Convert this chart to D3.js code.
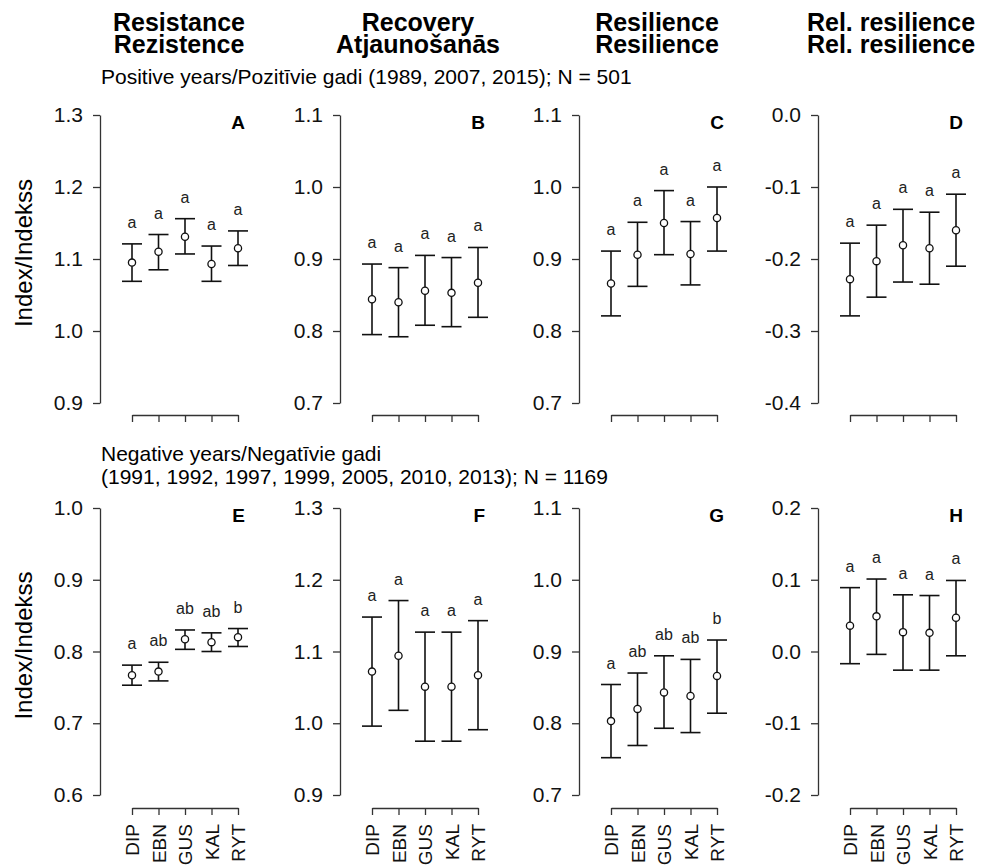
<!DOCTYPE html>
<html>
<head>
<meta charset="utf-8">
<script src="https://cdn.jsdelivr.net/npm/d3@7"></script>
<style>
  html, body { margin: 0; padding: 0; background: #fff; }
  svg { display: block; font-family: "Liberation Sans", Arial, Helvetica, sans-serif; }
</style>
</head>
<body>
<svg id="chart" width="986" height="867"></svg>
<script>
// ---------------- DATA ----------------
const categories = ["DIP", "EBN", "GUS", "KAL", "RYT"];

const columnTitles = [
  ["Resistance", "Rezistence"],
  ["Recovery", "Atjaunošanās"],
  ["Resilience", "Resilience"],
  ["Rel. resilience", "Rel. resilience"]
];

const positiveSubtitle = ["Positive years/Pozitīvie gadi (1989, 2007, 2015); N = 501"];
const negativeSubtitle = ["Negative years/Negatīvie gadi", "(1991, 1992, 1997, 1999, 2005, 2010, 2013); N = 1169"];
const yAxisTitle = "Index/Indekss";

const panelLetters = ["A", "B", "C", "D", "E", "F", "G", "H"];

// y tick values per panel
const ticksA = [0.9, 1.0, 1.1, 1.2, 1.3];
const ticksB = [0.7, 0.8, 0.9, 1.0, 1.1];
const ticksC = [0.7, 0.8, 0.9, 1.0, 1.1];
const ticksD = [-0.4, -0.3, -0.2, -0.1, 0.0];
const ticksE = [0.6, 0.7, 0.8, 0.9, 1.0];
const ticksF = [0.9, 1.0, 1.1, 1.2, 1.3];
const ticksG = [0.7, 0.8, 0.9, 1.0, 1.1];
const ticksH = [-0.2, -0.1, 0.0, 0.1, 0.2];

// Means, lower and upper CI limits, group letters
const meanA  = [1.095, 1.110, 1.131, 1.093, 1.115];
const lowerA = [1.069, 1.085, 1.107, 1.069, 1.091];
const upperA = [1.121, 1.134, 1.156, 1.118, 1.139];
const lettersA = ["a", "a", "a", "a", "a"];

const meanB  = [0.844, 0.840, 0.856, 0.853, 0.867];
const lowerB = [0.795, 0.792, 0.808, 0.806, 0.819];
const upperB = [0.893, 0.888, 0.905, 0.902, 0.916];
const lettersB = ["a", "a", "a", "a", "a"];

const meanC  = [0.866, 0.906, 0.950, 0.907, 0.957];
const lowerC = [0.821, 0.862, 0.906, 0.864, 0.911];
const upperC = [0.911, 0.951, 0.995, 0.952, 1.000];
const lettersC = ["a", "a", "a", "a", "a"];

const meanD  = [-0.228, -0.203, -0.181, -0.185, -0.160];
const lowerD = [-0.279, -0.253, -0.232, -0.235, -0.210];
const upperD = [-0.178, -0.153, -0.131, -0.135, -0.110];
const lettersD = ["a", "a", "a", "a", "a"];

const meanE  = [0.767, 0.772, 0.817, 0.813, 0.820];
const lowerE = [0.753, 0.759, 0.803, 0.800, 0.807];
const upperE = [0.781, 0.785, 0.830, 0.826, 0.832];
const lettersE = ["a", "ab", "ab", "ab", "b"];

const meanF  = [1.072, 1.094, 1.051, 1.051, 1.067];
const lowerF = [0.996, 1.018, 0.975, 0.975, 0.991];
const upperF = [1.148, 1.171, 1.127, 1.127, 1.143];
const lettersF = ["a", "a", "a", "a", "a"];

const meanG  = [0.803, 0.820, 0.843, 0.838, 0.866];
const lowerG = [0.752, 0.769, 0.793, 0.787, 0.814];
const upperG = [0.854, 0.870, 0.894, 0.889, 0.916];
const lettersG = ["a", "ab", "ab", "ab", "b"];

const meanH  = [0.036, 0.049, 0.027, 0.026, 0.047];
const lowerH = [-0.017, -0.004, -0.026, -0.026, -0.006];
const upperH = [0.089, 0.101, 0.079, 0.078, 0.099];
const lettersH = ["a", "a", "a", "a", "a"];

// ---------------- PANELS ----------------
const panels = [
  { ticks: ticksA, mean: meanA, lower: lowerA, upper: upperA, letters: lettersA },
  { ticks: ticksB, mean: meanB, lower: lowerB, upper: upperB, letters: lettersB },
  { ticks: ticksC, mean: meanC, lower: lowerC, upper: upperC, letters: lettersC },
  { ticks: ticksD, mean: meanD, lower: lowerD, upper: upperD, letters: lettersD },
  { ticks: ticksE, mean: meanE, lower: lowerE, upper: upperE, letters: lettersE },
  { ticks: ticksF, mean: meanF, lower: lowerF, upper: upperF, letters: lettersF },
  { ticks: ticksG, mean: meanG, lower: lowerG, upper: upperG, letters: lettersG },
  { ticks: ticksH, mean: meanH, lower: lowerH, upper: upperH, letters: lettersH }
];

// ---------------- LAYOUT ----------------
const svg = d3.select("#chart");
const axisXs = [100, 340, 579, 818];
const rows = [ { top: 115, bottom: 403 }, { top: 508, bottom: 795 } ];
const titleXs = [179, 418, 657, 891];
const INK = "#111";
const AXIS = "#333";

// column titles
columnTitles.forEach((t, i) => {
  const g = svg.append("text")
    .attr("text-anchor", "middle")
    .style("font-weight", "bold").style("font-size", "25px").attr("fill", "#000");
  g.append("tspan").attr("x", titleXs[i]).attr("y", 31).text(t[0]);
  g.append("tspan").attr("x", titleXs[i]).attr("y", 53).text(t[1]);
});

// subtitles
svg.append("text").attr("x", 101).attr("y", 84)
  .style("font-size", "21px").attr("fill", "#000").text(positiveSubtitle[0]);
svg.append("text").attr("x", 101).attr("y", 461)
  .style("font-size", "21px").attr("fill", "#000").text(negativeSubtitle[0]);
svg.append("text").attr("x", 101).attr("y", 484)
  .style("font-size", "21px").attr("fill", "#000").text(negativeSubtitle[1]);

// y axis titles
rows.forEach(r => {
  const cy = (r.top + r.bottom) / 2 - 6;
  svg.append("text")
    .attr("transform", `translate(32,${cy}) rotate(-90)`)
    .attr("text-anchor", "middle")
    .style("font-size", "24px").attr("fill", "#000")
    .text(yAxisTitle);
});

const fmt = d => (Math.abs(d) < 1e-9 ? 0 : d).toFixed(1);

panels.forEach((p, idx) => {
  const row = rows[Math.floor(idx / 4)];
  const col = idx % 4;
  const ax = axisXs[col];
  const isBottom = idx >= 4;

  const y = d3.scaleLinear()
    .domain([p.ticks[0], p.ticks[p.ticks.length - 1]])
    .range([row.bottom, row.top]);
  const x = d3.scalePoint()
    .domain(categories)
    .range([ax + 32, ax + 138]);

  const g = svg.append("g");

  // y axis
  const yAxis = g.append("g")
    .attr("transform", `translate(${ax},0)`)
    .call(d3.axisLeft(y).tickValues(p.ticks).tickFormat(fmt).tickSize(7).tickSizeOuter(0).tickPadding(10));
  yAxis.select(".domain").attr("stroke", AXIS).attr("stroke-width", 1.3);
  yAxis.selectAll(".tick line").attr("stroke", AXIS).attr("stroke-width", 1.3);
  yAxis.selectAll(".tick text")
    .style("font-size", "21px").style("font-family", "'Liberation Sans', Arial, sans-serif")
    .attr("fill", "#111");

  // x axis
  const xAxisY = row.bottom + (isBottom ? 13 : 12);
  const xAxis = g.append("g")
    .attr("transform", `translate(0,${xAxisY})`)
    .call(d3.axisBottom(x).tickSize(7).tickSizeOuter(0));
  xAxis.select(".domain").attr("stroke", AXIS).attr("stroke-width", 1.3);
  xAxis.selectAll(".tick line").attr("stroke", AXIS).attr("stroke-width", 1.3);
  if (isBottom) {
    xAxis.selectAll(".tick text")
      .attr("transform", "rotate(-90)")
      .attr("x", -16).attr("y", 0).attr("dy", "0.36em")
      .attr("text-anchor", "end")
      .style("font-size", "19px").style("font-family", "'Liberation Sans', Arial, sans-serif")
      .attr("fill", "#111");
  } else {
    xAxis.selectAll(".tick text").remove();
  }

  // panel letter
  g.append("text")
    .attr("x", ax + 145).attr("y", row.top + 14)
    .attr("text-anchor", "end")
    .style("font-weight", "bold").style("font-size", "19px")
    .attr("fill", "#000")
    .text(panelLetters[idx]);

  const data = categories.map((c, i) => ({
    c, m: p.mean[i], lo: p.lower[i], hi: p.upper[i], l: p.letters[i]
  }));

  const bars = g.selectAll(".eb").data(data).enter().append("g");
  bars.append("line")
    .attr("x1", d => x(d.c)).attr("x2", d => x(d.c))
    .attr("y1", d => y(d.lo)).attr("y2", d => y(d.hi))
    .attr("stroke", INK).attr("stroke-width", 1.6);
  bars.append("line")
    .attr("x1", d => x(d.c) - 10).attr("x2", d => x(d.c) + 10)
    .attr("y1", d => y(d.hi)).attr("y2", d => y(d.hi))
    .attr("stroke", INK).attr("stroke-width", 1.6);
  bars.append("line")
    .attr("x1", d => x(d.c) - 10).attr("x2", d => x(d.c) + 10)
    .attr("y1", d => y(d.lo)).attr("y2", d => y(d.lo))
    .attr("stroke", INK).attr("stroke-width", 1.6);
  bars.append("circle")
    .attr("cx", d => x(d.c)).attr("cy", d => y(d.m))
    .attr("r", 3.6)
    .attr("fill", "#fff").attr("stroke", INK).attr("stroke-width", 1.3);
  bars.append("text")
    .attr("x", d => x(d.c)).attr("y", d => y(d.hi) - 16)
    .attr("text-anchor", "middle")
    .style("font-size", "16px").attr("fill", "#222")
    .text(d => d.l);
});
</script>
</body>
</html>
